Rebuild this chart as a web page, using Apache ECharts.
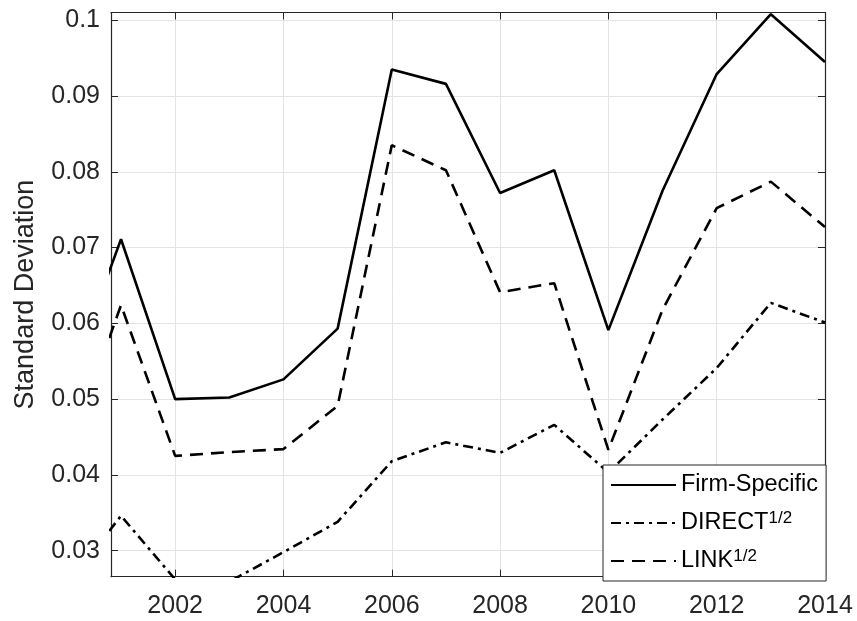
<!DOCTYPE html>
<html>
<head>
<meta charset="utf-8">
<script src="https://cdn.jsdelivr.net/npm/echarts@6/dist/echarts.min.js"></script>
<style>
  html, body { margin: 0; padding: 0; background: #fff; }
  #chart { width: 857px; height: 621px; }
</style>
</head>
<body>
<div id="chart"></div>
<script>
// Yearly standard deviations of the three measures
const years = [2000, 2001, 2002, 2003, 2004, 2005, 2006, 2007, 2008, 2009, 2010, 2011, 2012, 2013, 2014];
const firmSpecific = [0.0516, 0.0711, 0.0500, 0.0502, 0.0526, 0.0593, 0.0935, 0.0916, 0.0772, 0.0802, 0.0591, 0.0775, 0.0929, 0.1008, 0.0945];
const directSqrt   = [0.0254, 0.0346, 0.0262, 0.0259, 0.0298, 0.0338, 0.0418, 0.0443, 0.0429, 0.0466, 0.0403, 0.0473, 0.0541, 0.0627, 0.0601];
const linkSqrt     = [0.0424, 0.0624, 0.0425, 0.0430, 0.0434, 0.0491, 0.0835, 0.0802, 0.0641, 0.0653, 0.0433, 0.0618, 0.0752, 0.0787, 0.0727];

const seriesNames = ['Firm-Specific', 'DIRECT', 'LINK'];
const seriesSup = ['', '1/2', '1/2'];
const xTicks = [2002, 2004, 2006, 2008, 2010, 2012, 2014];
const yTicks = [0.03, 0.04, 0.05, 0.06, 0.07, 0.08, 0.09, 0.1];
const xRange = [2000.815, 2014];
const yRange = [0.02656, 0.10102];

const FONT = 'Liberation Sans, Arial, Helvetica, sans-serif';
const AXIS_COLOR = '#262626';
const GRID_COLOR = '#e3e3e3';

function pairs(vals) {
  return years.map((y, i) => [y, vals[i]]);
}

const tickStyle = { show: true, inside: true, length: 7, lineStyle: { color: AXIS_COLOR, width: 1 } };

const chart = echarts.init(document.getElementById('chart'), null, { renderer: 'canvas' });

chart.setOption({
  backgroundColor: '#ffffff',
  animation: false,
  grid: { left: 111, top: 12.5, right: 32, bottom: 44.3, containLabel: false },
  xAxis: [
    {
      type: 'value', min: xRange[0], max: xRange[1], position: 'bottom',
      axisLine: { show: true, lineStyle: { color: AXIS_COLOR, width: 1.2 } },
      axisTick: Object.assign({ customValues: xTicks }, tickStyle),
      axisLabel: {
        customValues: xTicks, color: AXIS_COLOR, fontSize: 25, fontFamily: FONT, margin: 17,
        formatter: v => String(Math.round(v))
      },
      splitLine: { show: true, lineStyle: { color: GRID_COLOR, width: 1 } }
    },
    {
      type: 'value', min: xRange[0], max: xRange[1], position: 'top',
      axisLine: { show: true, onZero: false, lineStyle: { color: AXIS_COLOR, width: 1.2 } },
      axisTick: Object.assign({ customValues: xTicks }, tickStyle),
      axisLabel: { show: false },
      splitLine: { show: false }
    }
  ],
  yAxis: [
    {
      type: 'value', min: yRange[0], max: yRange[1], position: 'left',
      name: 'Standard Deviation', nameLocation: 'middle', nameGap: 72,
      nameTextStyle: { color: AXIS_COLOR, fontSize: 27, fontFamily: FONT },
      axisLine: { show: true, lineStyle: { color: AXIS_COLOR, width: 1.2 } },
      axisTick: Object.assign({ customValues: yTicks }, tickStyle),
      axisLabel: {
        customValues: yTicks, color: AXIS_COLOR, fontSize: 25, fontFamily: FONT, margin: 11,
        formatter: v => String(+v.toFixed(2))
      },
      splitLine: { show: true, lineStyle: { color: GRID_COLOR, width: 1 } }
    },
    {
      type: 'value', min: yRange[0], max: yRange[1], position: 'right',
      axisLine: { show: true, onZero: false, lineStyle: { color: AXIS_COLOR, width: 1.2 } },
      axisTick: Object.assign({ customValues: yTicks }, tickStyle),
      axisLabel: { show: false },
      splitLine: { show: false }
    }
  ],
  legend: {
    orient: 'vertical',
    left: 603, top: 465,
    padding: [8, 8, 8, 7],
    itemGap: 13,
    itemWidth: 65,
    itemHeight: 14,
    itemStyle: { opacity: 0, borderWidth: 0 },
    backgroundColor: '#ffffff',
    borderColor: AXIS_COLOR,
    borderWidth: 1,
    borderRadius: 0,
    data: seriesNames,
    formatter: name => {
      const i = seriesNames.indexOf(name);
      return seriesSup[i] ? '{b|' + name + '}{s|' + seriesSup[i] + '}' : '{b|' + name + '}';
    },
    textStyle: {
      color: '#000', fontFamily: FONT, fontSize: 23.5,
      rich: {
        b: { fontSize: 23.5, lineHeight: 26, fontFamily: FONT, color: '#000' },
        s: { fontSize: 17, lineHeight: 12, fontFamily: FONT, color: '#000', verticalAlign: 'top' }
      }
    }
  },
  series: [
    {
      name: seriesNames[0], type: 'line', data: pairs(firmSpecific),
      symbol: 'none', clip: true, z: 3,
      lineStyle: { color: '#000', width: 2.6, type: 'solid' },
      itemStyle: { color: '#000' }
    },
    {
      name: seriesNames[1], type: 'line', data: pairs(directSqrt),
      symbol: 'none', clip: true, z: 3,
      lineStyle: { color: '#000', width: 2.6, type: [10, 5, 3, 5] },
      itemStyle: { color: '#000' }
    },
    {
      name: seriesNames[2], type: 'line', data: pairs(linkSqrt),
      symbol: 'none', clip: true, z: 3,
      lineStyle: { color: '#000', width: 2.6, type: [13, 8] },
      itemStyle: { color: '#000' }
    }
  ]
});
</script>
</body>
</html>
